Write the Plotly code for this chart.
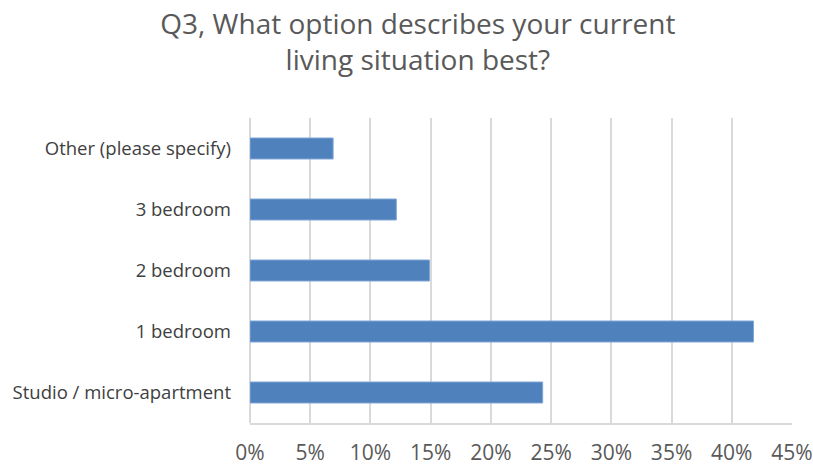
import plotly.graph_objects as go

categories = ["Studio / micro-apartment", "1 bedroom", "2 bedroom", "3 bedroom", "Other (please specify)"]
values = [0.243, 0.418, 0.149, 0.1215, 0.069]
x_ticks = [0, 0.05, 0.10, 0.15, 0.20, 0.25, 0.30, 0.35, 0.40, 0.45]
x_tick_labels = ["0%", "5%", "10%", "15%", "20%", "25%", "30%", "35%", "40%", "45%"]
title_text = "Q3, What option describes your current<br>living situation best?"

fig = go.Figure(go.Bar(
    x=values, y=categories, orientation="h",
    marker=dict(color="#4F81BD", line=dict(color="#7FA6D6", width=1)),
    hoverinfo="skip",
))

fig.update_layout(
    width=813, height=466,
    margin=dict(l=250, r=21, t=118, b=43, autoexpand=False),
    paper_bgcolor="white", plot_bgcolor="white",
    bargap=0.656,
    showlegend=False,
    font=dict(family="Open Sans", color="#404040"),
    title=dict(text=title_text, x=0.514, xanchor="center", y=0.928, yanchor="middle",
               font=dict(family="Open Sans", size=28, color="#595959")),
)
fig.update_xaxes(
    range=[0, 0.45], tickvals=x_ticks, ticktext=x_tick_labels,
    showgrid=True, gridcolor="#D9D9D9", gridwidth=2,
    zeroline=True, zerolinecolor="#D9D9D9", zerolinewidth=2,
    showline=True, linecolor="#D9D9D9", linewidth=2,
    ticks="", ticklabelstandoff=10,
    tickfont=dict(family="Open Sans", size=21, color="#595959"),
)
fig.update_yaxes(
    categoryorder="array", categoryarray=categories,
    showgrid=False, showline=False, zeroline=False, ticks="",
    ticklabelstandoff=18,
    tickfont=dict(family="Open Sans", size=18.5, color="#404040"),
)

fig.write_html("out.html")
